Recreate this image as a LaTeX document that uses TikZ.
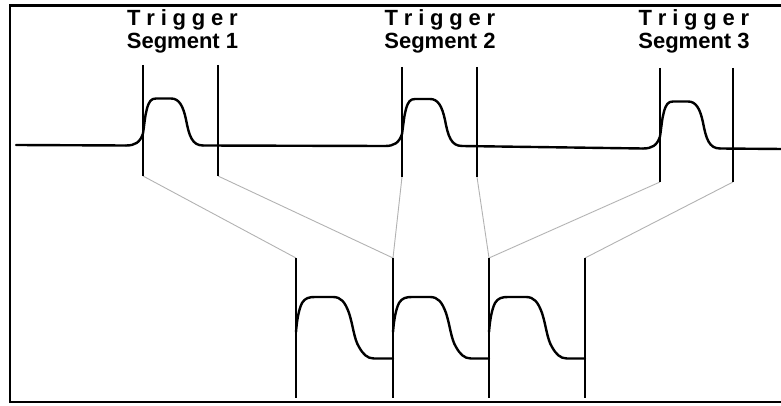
\documentclass[tikz,border=0pt]{standalone}
\usepackage{fontspec}
\setmainfont{Liberation Sans}
\newcommand\trigtext{T\kern5.8pt r\kern5.8pt i\kern5.8pt g\kern5.8pt g\kern5.8pt e\kern5.8pt r}
\begin{document}
\begin{tikzpicture}[x=1pt,y=-1pt,
  frame/.style={line width=2.6pt},
  wave/.style={line width=2.4pt, line join=round, line cap=round},
  marker/.style={line width=2pt},
  link/.style={gray!60, line width=0.9pt},
  lbl/.style={font=\fontsize{22}{24}\selectfont\bfseries, inner sep=0pt, anchor=base}]
\useasboundingbox (0,0) rectangle (781,406);
\draw[frame] (785,5.5) -- (10,5.5) -- (10,402) -- (785,402);

% labels
\node[lbl] (tr1) at (182.5,26) {\trigtext};
\node[lbl] (sg1) at (182.5,48.5) {Segment 1};
\node[lbl] (tr2) at (440,26) {\trigtext};
\node[lbl] (sg2) at (440,48.5) {Segment 2};
\node[lbl] (tr3) at (694,26) {\trigtext};
\node[lbl] (sg3) at (694,48.5) {Segment 3};

% top trigger markers
\coordinate (a1t) at (143,65);  \coordinate (a1b) at (143,176);
\coordinate (b1t) at (218,65);  \coordinate (b1b) at (218,176);
\coordinate (a2t) at (402,67);  \coordinate (a2b) at (402,177);
\coordinate (b2t) at (477,67);  \coordinate (b2b) at (477,177);
\coordinate (a3t) at (660,68);  \coordinate (a3b) at (660,182);
\coordinate (b3t) at (733,68);  \coordinate (b3b) at (733,182);

% bottom markers
\coordinate (m1t) at (296,258); \coordinate (m1b) at (296,398);
\coordinate (m2t) at (393,258); \coordinate (m2b) at (393,398);
\coordinate (m3t) at (489,258); \coordinate (m3b) at (489,398);
\coordinate (m4t) at (585,258); \coordinate (m4b) at (585,398);
\coordinate (m2m) at (393,358.5); \coordinate (m3m) at (489,358.5); \coordinate (m4m) at (585,358.5);

% grey links
\draw[link] (a1b) -- (m1t);
\draw[link] (b1b) -- (m2t);
\draw[link] (a2b) -- (m2t);
\draw[link] (b2b) -- (m3t);
\draw[link] (a3b) -- (m3t);
\draw[link] (b3b) -- (m4t);

% markers
\foreach \n in {a1,b1,a2,b2,a3,b3,m1,m2,m3,m4}
  \draw[marker] (\n t) -- (\n b);

% top waveform baseline
\draw[wave] (16,145) -- (126,145.5);
\draw[wave] (203,145.5) -- (385,146);
\draw[wave] (462,146) -- (643,148.5);
\draw[wave] (720,148.5) -- (783,149);

% top pulses
\foreach \xx/\bb in {143/145.5, 402/146, 660/148.5}{
  \begin{scope}[shift={(\xx,\bb)}]
  \draw[wave] (-17,0) .. controls (-8,0) and (-3,-3) .. (0,-12)
     .. controls (1.5,-22) and (2,-30) .. (4,-37)
     .. controls (6,-44) and (8,-47) .. (13,-47) -- (28,-47)
     .. controls (36,-47) and (40,-40) .. (43,-26)
     .. controls (46,-10) and (49,0) .. (60,0);
  \end{scope}
}

% bottom pulses
\foreach \xx/\nx in {296/m2m, 393/m3m, 489/m4m}{
  \begin{scope}[shift={(\xx,297)}]
  \draw[wave] (0,35) .. controls (1,22) and (3,12) .. (6,6)
     .. controls (9,1) and (13,0) .. (19,0) -- (37,0)
     .. controls (45,0) and (49,5) .. (53,16)
     .. controls (57,28) and (58,42) .. (63,50)
     .. controls (67,57) and (71,61.5) .. (78,61.5) -- (\nx);
  \end{scope}
}
\end{tikzpicture}
\end{document}
